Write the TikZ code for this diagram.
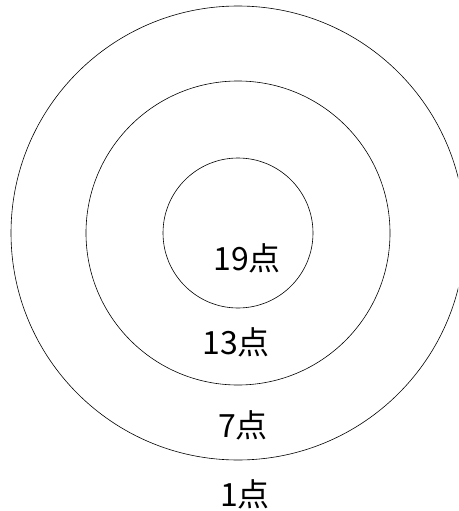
\documentclass[tikz,border=0pt]{standalone}
\usepackage{fontspec}
\newfontfamily\jpfont{Noto Sans CJK JP}
\usetikzlibrary{positioning}

\begin{document}
\begin{tikzpicture}[
  x=1pt, y=-1pt,
  ring/.style={draw, circle, inner sep=0pt, line width=0.6pt},
  pt/.style={font=\jpfont\fontsize{32}{36}\selectfont, inner sep=0pt}
]
  \useasboundingbox (0,0) rectangle (458,511);
  \clip (0,0) rectangle (458,511);
  \coordinate (c) at (238,233);

  \node[ring, minimum size=454pt] (outer) at (c) {};
  \node[ring, minimum size=304pt] (middle) at (c) {};
  \node[ring, minimum size=150pt] (inner) at (c) {};

  \node[pt] (p19) at (247,258) {19点};
  \node[pt] (p13) at (236,342) {13点};
  \node[pt] (p7)  at (243,425) {7点};
  \node[pt] (p1)  at (245,494) {1点};
\end{tikzpicture}
\end{document}
